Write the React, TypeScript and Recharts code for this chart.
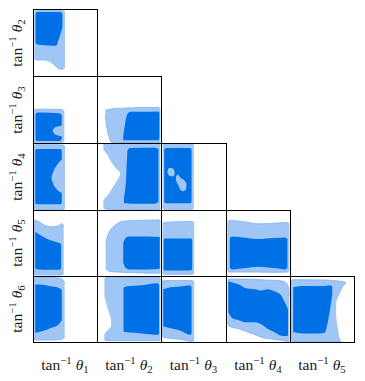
import { ComposedChart, Area, XAxis, YAxis } from "recharts";

// each contour row: [x, lower y, upper y] in panel units (0..1)
type Row = [number, number, number];

const yNames = ["2", "3", "4", "5", "6"];
const xNames = ["1", "2", "3", "4", "5"];

// theta2 vs theta1
const outer21: Row[] = [[0.02,0.26,0.95],[0.05,0.24,0.98],[0.15,0.24,0.98],[0.26,0.22,0.98],[0.34,0.16,0.98],[0.40,0.11,0.98],[0.46,0.10,0.975],[0.50,0.13,0.95]];
const inner21: Row[] = [[0.04,0.49,0.93],[0.07,0.47,0.955],[0.2,0.46,0.955],[0.36,0.45,0.955],[0.40,0.54,0.955],[0.44,0.66,0.95],[0.46,0.72,0.92]];

// theta3
const outer31: Row[] = [[0.01,0.03,0.47],[0.04,0.01,0.505],[0.25,0.01,0.505],[0.45,0.01,0.50],[0.49,0.04,0.46]];
const inner31: Row[] = [[0.04,0.05,0.43],[0.07,0.03,0.455],[0.25,0.03,0.45],[0.42,0.03,0.44],[0.45,0.06,0.41]];
const gap31: Row[] = [[0.31,0.17,0.19],[0.34,0.13,0.23],[0.40,0.11,0.25],[0.46,0.10,0.27]];
const outer32: Row[] = [[0.13,0.42,0.49],[0.16,0.2,0.50],[0.19,0.08,0.50],[0.23,0.01,0.51],[0.4,0.005,0.52],[0.7,0.005,0.53],[0.97,0.005,0.53],[0.99,0.02,0.50]];
const inner32: Row[] = [[0.41,0.04,0.10],[0.44,0.04,0.30],[0.48,0.04,0.44],[0.52,0.04,0.465],[0.7,0.04,0.465],[0.96,0.04,0.47],[0.975,0.07,0.44]];

// theta4
const outer41: Row[] = [[0.01,0.03,0.95],[0.04,0.005,0.975],[0.3,0.005,0.975],[0.47,0.005,0.97],[0.50,0.04,0.94]];
const inner41: Row[] = [[0.035,0.10,0.89],[0.06,0.085,0.91],[0.3,0.085,0.91],[0.43,0.085,0.91],[0.45,0.11,0.88]];
const gap41: Row[] = [[0.29,0.46,0.50],[0.32,0.38,0.58],[0.38,0.30,0.68],[0.46,0.25,0.76]];
const outer42: Row[] = [[0.10,0.03,0.98],[0.2,0.005,1],[0.6,0.005,1],[0.97,0.005,1],[0.99,0.03,0.97]];
const cut42: Row[] = [[0.09,0.14,0.90],[0.15,0.2,0.84],[0.22,0.3,0.72],[0.30,0.42,0.62],[0.36,0.52,0.56]];
const inner42: Row[] = [[0.42,0.10,0.18],[0.45,0.10,0.40],[0.48,0.10,0.90],[0.52,0.095,0.925],[0.9,0.095,0.93],[0.96,0.12,0.91]];
const outer43: Row[] = [[0.025,0.04,0.96],[0.05,0.01,0.99],[0.48,0.01,0.99],[0.505,0.04,0.96]];
const inner43: Row[] = [[0.05,0.12,0.90],[0.08,0.10,0.925],[0.45,0.10,0.925],[0.47,0.13,0.89]];
const gap43a: Row[] = [[0.10,0.56,0.58],[0.13,0.51,0.63],[0.18,0.50,0.62],[0.21,0.53,0.58]];
const gap43b: Row[] = [[0.23,0.44,0.50],[0.26,0.38,0.53],[0.30,0.30,0.48],[0.35,0.28,0.45],[0.39,0.32,0.40]];

// theta5
const outer51: Row[] = [[0.01,0.03,0.85],[0.06,0.015,0.84],[0.2,0.015,0.76],[0.3,0.015,0.745],[0.4,0.015,0.76],[0.45,0.015,0.795],[0.48,0.04,0.76]];
const inner51: Row[] = [[0.035,0.11,0.67],[0.15,0.095,0.6],[0.25,0.095,0.55],[0.35,0.095,0.52],[0.43,0.1,0.49],[0.44,0.13,0.46]];
const outer52: Row[] = [[0.135,0.11,0.52],[0.2,0.07,0.68],[0.3,0.06,0.78],[0.4,0.055,0.83],[0.6,0.05,0.84],[0.97,0.04,0.85],[0.99,0.07,0.82]];
const inner52: Row[] = [[0.41,0.2,0.5],[0.45,0.12,0.58],[0.5,0.1,0.6],[0.8,0.1,0.6],[0.98,0.11,0.59]];
const outer53: Row[] = [[0.025,0.05,0.79],[0.05,0.025,0.815],[0.48,0.025,0.825],[0.51,0.05,0.80]];
const inner53: Row[] = [[0.04,0.10,0.55],[0.06,0.085,0.57],[0.46,0.085,0.57],[0.48,0.11,0.55]];
const outer54: Row[] = [[0.02,0.09,0.81],[0.05,0.06,0.84],[0.3,0.06,0.82],[0.5,0.06,0.79],[0.75,0.055,0.8],[0.96,0.06,0.81],[0.99,0.09,0.78]];
const inner54: Row[] = [[0.06,0.12,0.58],[0.1,0.1,0.6],[0.3,0.12,0.58],[0.5,0.14,0.56],[0.75,0.12,0.575],[0.93,0.1,0.585],[0.96,0.13,0.56]];

// theta6
const outer61: Row[] = [[0.01,0.05,0.95],[0.04,0.03,0.98],[0.3,0.03,0.98],[0.45,0.04,0.96],[0.495,0.08,0.89]];
const inner61: Row[] = [[0.035,0.14,0.87],[0.1,0.15,0.87],[0.2,0.18,0.86],[0.3,0.22,0.84],[0.38,0.25,0.83],[0.45,0.33,0.79]];
const outer62: Row[] = [[0.115,0.04,0.95],[0.15,0.02,0.98],[0.5,0.02,0.98],[0.97,0.02,0.98],[0.99,0.05,0.94]];
const cut62: Row[] = [[0.11,0.12,0.7],[0.17,0.18,0.5],[0.22,0.24,0.34]];
const inner62: Row[] = [[0.415,0.16,0.82],[0.45,0.15,0.84],[0.7,0.13,0.86],[0.95,0.11,0.89],[0.97,0.13,0.86]];
const outer63: Row[] = [[0.015,0.09,0.91],[0.05,0.07,0.93],[0.3,0.04,0.93],[0.48,0.005,0.93],[0.51,0.03,0.89]];
const inner63: Row[] = [[0.035,0.24,0.80],[0.1,0.22,0.82],[0.3,0.17,0.84],[0.45,0.11,0.855],[0.47,0.12,0.83]];
const outer64: Row[] = [[0.025,0.3,0.94],[0.05,0.24,0.955],[0.2,0.2,0.955],[0.4,0.13,0.95],[0.6,0.06,0.94],[0.75,0.04,0.935],[0.9,0.02,0.92],[0.97,0.01,0.85],[0.99,0.01,0.7]];
const inner64: Row[] = [[0.035,0.45,0.92],[0.1,0.36,0.9],[0.2,0.33,0.87],[0.3,0.3,0.82],[0.45,0.3,0.8],[0.55,0.27,0.78],[0.65,0.2,0.8],[0.75,0.15,0.77],[0.85,0.1,0.72],[0.92,0.09,0.6],[0.97,0.1,0.5]];
const outer65: Row[] = [[0.015,0.03,0.92],[0.04,0.005,0.945],[0.5,0.005,0.94],[0.75,0.005,0.925],[0.86,0.02,0.91],[0.875,0.1,0.88]];
const cut65: Row[] = [[0.72,0.4,0.6],[0.74,0.25,0.66],[0.77,0.08,0.72],[0.82,0.0,0.82],[0.9,0.0,0.9]];
const inner65: Row[] = [[0.05,0.15,0.83],[0.2,0.13,0.85],[0.45,0.13,0.85],[0.54,0.14,0.85],[0.6,0.35,0.855],[0.66,0.72,0.85]];

type Panel = { row: number; col: number; outer: Row[]; cuts?: Row[][]; inner: Row[]; gaps?: Row[][] };

const panels: Panel[] = [
  { row: 0, col: 0, outer: outer21, inner: inner21 },
  { row: 1, col: 0, outer: outer31, inner: inner31, gaps: [gap31] },
  { row: 1, col: 1, outer: outer32, inner: inner32 },
  { row: 2, col: 0, outer: outer41, inner: inner41, gaps: [gap41] },
  { row: 2, col: 1, outer: outer42, cuts: [cut42], inner: inner42 },
  { row: 2, col: 2, outer: outer43, inner: inner43, gaps: [gap43a, gap43b] },
  { row: 3, col: 0, outer: outer51, inner: inner51 },
  { row: 3, col: 1, outer: outer52, inner: inner52 },
  { row: 3, col: 2, outer: outer53, inner: inner53 },
  { row: 3, col: 3, outer: outer54, inner: inner54 },
  { row: 4, col: 0, outer: outer61, inner: inner61 },
  { row: 4, col: 1, outer: outer62, cuts: [cut62], inner: inner62 },
  { row: 4, col: 2, outer: outer63, inner: inner63 },
  { row: 4, col: 3, outer: outer64, inner: inner64 },
  { row: 4, col: 4, outer: outer65, cuts: [cut65], inner: inner65 },
];

const colX = [33, 97, 161, 226, 290, 354];
const rowY = [9, 76, 143, 210, 276, 342];

const LIGHT = "#9fc6f5";
const EDGE = "#7fb2ef";
const DARK = "#0070e6";
const FONT = "'Liberation Serif', 'DejaVu Serif', serif";

const toPts = (rows: Row[]) => rows.map(([x, lo, hi]) => ({ x, r: [lo, hi] }));

function Label({ n }: { n: string }) {
  return (
    <span style={{ whiteSpace: "nowrap" }}>
      tan<span style={{ fontSize: "0.7em", verticalAlign: "0.5em" }}>−1</span>{" "}
      <i>θ</i><span style={{ fontSize: "0.7em", verticalAlign: "-0.3em" }}>{n}</span>
    </span>
  );
}

function Contours({ p }: { p: Panel }) {
  const w = colX[p.col + 1] - colX[p.col];
  const h = rowY[p.row + 1] - rowY[p.row];
  const area = (rows: Row[], key: string, fill: string, stroke?: string) => (
    <Area
      key={key}
      data={toPts(rows)}
      dataKey="r"
      type="monotone"
      fill={fill}
      fillOpacity={1}
      stroke={stroke ?? "none"}
      strokeWidth={0.8}
      dot={false}
      activeDot={false}
      isAnimationActive={false}
    />
  );
  return (
    <div style={{ position: "absolute", left: colX[p.col], top: rowY[p.row] }}>
      <ComposedChart width={w} height={h} margin={{ top: 0, right: 0, bottom: 0, left: 0 }}>
        <XAxis type="number" dataKey="x" domain={[0, 1]} allowDataOverflow hide />
        <YAxis type="number" domain={[0, 1]} allowDataOverflow hide />
        {area(p.outer, "o", LIGHT, EDGE)}
        {(p.cuts ?? []).map((c, i) => area(c, "c" + i, "#ffffff"))}
        {area(p.inner, "i", DARK)}
        {(p.gaps ?? []).map((g, i) => area(g, "g" + i, LIGHT))}
      </ComposedChart>
      <div
        style={{
          position: "absolute", left: 0, top: 0, width: w + 1, height: h + 1,
          border: "1px solid #000", boxSizing: "border-box", pointerEvents: "none",
        }}
      />
    </div>
  );
}

export default function App() {
  return (
    <div style={{ position: "absolute", left: 0, top: 0, width: 365, height: 381, background: "#fff", fontFamily: FONT, fontSize: 15.5, color: "#222" }}>
      {panels.map(p => <Contours key={`${p.row}-${p.col}`} p={p} />)}
      {yNames.map((n, r) => (
        <div key={"y" + n} style={{
          position: "absolute", left: 17, top: (rowY[r] + rowY[r + 1]) / 2,
          transform: "translate(-50%, -50%) rotate(-90deg)",
        }}>
          <Label n={n} />
        </div>
      ))}
      {xNames.map((n, c) => (
        <div key={"x" + n} style={{
          position: "absolute", left: (colX[c] + colX[c + 1]) / 2, top: 365,
          transform: "translate(-50%, -50%)",
        }}>
          <Label n={n} />
        </div>
      ))}
    </div>
  );
}
